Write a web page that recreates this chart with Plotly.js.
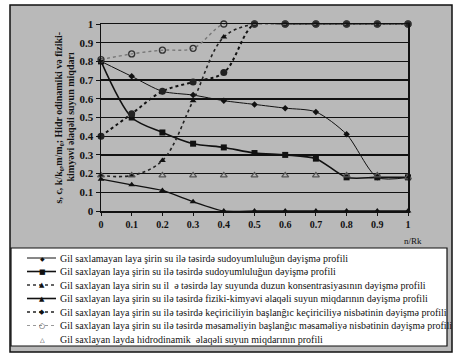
<!DOCTYPE html>
<html><head><meta charset="utf-8">
<script src="https://cdn.plot.ly/plotly-3.0.1.min.js"></script>
<style>html,body{margin:0;padding:0;background:#fff}#c{width:456px;height:358px}</style>
</head><body><div id="c"></div>
<script>
// ---- data ----
const xVals = [0, 0.1, 0.2, 0.3, 0.4, 0.5, 0.6, 0.7, 0.8, 0.9, 1];
const sudoyumNoClay = [0.80, 0.72, 0.64, 0.62, 0.59, 0.57, 0.55, 0.53, 0.41, 0.18, 0.18];
const sudoyumClay   = [0.80, 0.50, 0.42, 0.36, 0.34, 0.31, 0.30, 0.28, 0.18, 0.18, 0.18];
const saltConc      = [0.19, 0.19, 0.27, 0.59, 0.93, 1, 1, 1, 1, 1, 1];
const physChemWater = [0.17, 0.14, 0.11, 0.05, 0, 0, 0, 0, 0, 0, 0];
const permRatio     = [0.40, 0.52, 0.64, 0.69, 0.74, 1, 1, 1, 1, 1, 1];
const porosityRatio = [0.81, 0.84, 0.86, 0.87, 1, 1, 1, 1, 1, 1, 1];
const hydroWater    = [0.19, 0.19, 0.19, 0.19, 0.19, 0.19, 0.19, 0.19, 0.19, 0.19, 0.18];

const seriesNames = [
  "Gil saxlamayan laya şirin su ilə təsirdə sudoyumluluğun dəyişmə profili",
  "Gil saxlayan laya şirin su ilə təsirdə sudoyumluluğun dəyişmə profili",
  "Gil saxlayan laya sirin su il  ə təsirdə lay suyunda duzun konsentrasiyasının dəyişmə profili",
  "Gil saxlayan laya şirin su ilə təsirdə fiziki-kimyəvi əlaqəli suyun miqdarının dəyişmə profili",
  "Gil saxlayan laya şirin su ilə təsirdə keçiriciliyin başlanğıc keçiriciliyə nisbətinin dəyişmə profili",
  "Gil saxlayan laya şirin su ilə təsirdə məsaməliyin başlanğıc məsaməliyə nisbətinin dəyişmə profili",
  "Gil saxlayan layda hidrodinamik  əlaqəli suyun miqdarının profili"
];
const yTitleLine1 = "s, c, k/k₀,m/m₀; Hidr odinamiki və fiziki-";
const yTitleLine2 = "kimyəvi əlaqəli suyun miqdarı";
const xTitle = "n/Rk";

// ---- styles ----
const seriesData = [sudoyumNoClay, sudoyumClay, saltConc, physChemWater, permRatio, porosityRatio, hydroWater];
const styles = [
  {mode:'lines+markers', line:{color:'#111', width:1, shape:'spline', smoothing:0.75}, marker:{symbol:'diamond', size:5, color:'#111'}, sym:'◆', symSize:6, dash:'solid', lw:1, lc:'#111'},
  {mode:'lines+markers', line:{color:'#111', width:1.6, shape:'spline', smoothing:0.8}, marker:{symbol:'square', size:6, color:'#111'}, sym:'■', symSize:7, dash:'solid', lw:1.6, lc:'#111'},
  {mode:'lines+markers', line:{color:'#222', width:1.6, dash:'dot', shape:'spline', smoothing:1}, marker:{symbol:'triangle-up', size:6, color:'#111'}, sym:'▲', symSize:7, dash:'dot', lw:1.3, lc:'#333'},
  {mode:'lines+markers', line:{color:'#111', width:1.3, shape:'spline', smoothing:0.6}, marker:{symbol:'triangle-up', size:6, color:'#111'}, sym:'▲', symSize:7, dash:'solid', lw:1.6, lc:'#111'},
  {mode:'lines+markers', line:{color:'#111', width:2, dash:'dot', shape:'spline', smoothing:1}, marker:{symbol:'circle', size:7, color:'#222'}, sym:'◆', symSize:7, dash:'dot', lw:1.6, lc:'#222'},
  {mode:'lines+markers', line:{color:'#777', width:1.4, dash:'dot', shape:'spline', smoothing:1}, marker:{symbol:'circle-open', size:6, color:'#333', line:{width:1.3}}, sym:'○', symSize:7, dash:'dot', lw:1.2, lc:'#999'},
  {mode:'markers', marker:{symbol:'triangle-up-open', size:6, color:'#555', line:{width:1.3}}, sym:'△', symSize:6}
];

const traces = seriesData.map((ys, i) => {
  const s = styles[i];
  const t = {x: xVals, y: ys, name: seriesNames[i], type:'scatter', mode: s.mode, marker: s.marker, cliponaxis:false, showlegend:false};
  if (s.line) t.line = s.line;
  return t;
});

// pixel -> paper helpers (plot area 101..408 x, 24..211 y)
const L = 101, R = 408, T = 24, B = 211;
const px = v => (v - L) / (R - L);
const py = v => (B - v) / (B - T);

const shapes = [
  {type:'rect', xref:'paper', yref:'paper', x0:px(10), x1:px(452), y0:py(352), y1:py(5), fillcolor:'#b9b9b9', line:{color:'#111', width:1.5}, layer:'below'},
  {type:'rect', xref:'paper', yref:'paper', x0:px(11), x1:px(447), y0:py(346), y1:py(248), fillcolor:'#ffffff', line:{color:'#111', width:1.2}, layer:'below'}
];
const titleFont = {family:'Liberation Serif', size:10, color:'#111', weight:'bold'};
const annotations = [
  {xref:'paper', yref:'paper', x:px(58), y:0.5, text:yTitleLine1, textangle:-90, showarrow:false, font:titleFont, xanchor:'center', yanchor:'middle'},
  {xref:'paper', yref:'paper', x:px(70), y:0.5, text:yTitleLine2, textangle:-90, showarrow:false, font:titleFont, xanchor:'center', yanchor:'middle'},
  {xref:'paper', yref:'paper', x:px(413), y:py(241), text:xTitle, showarrow:false, font:{family:'Liberation Serif', size:9, color:'#111'}, xanchor:'center', yanchor:'middle'}
];
const rowY = [258, 271.5, 285, 298.5, 312, 325.5, 339];
seriesNames.forEach((n, i) => {
  const s = styles[i];
  const y = py(rowY[i]);
  if (s.dash) shapes.push({type:'line', xref:'paper', yref:'paper', x0:px(27), x1:px(56), y0:y, y1:y, line:{color:s.lc, width:s.lw, dash:s.dash}});
  annotations.push({xref:'paper', yref:'paper', x:px(42), y:y, text:s.sym, showarrow:false, font:{family:'DejaVu Sans', size:s.symSize, color:'#111'}, xanchor:'center', yanchor:'middle'});
  annotations.push({xref:'paper', yref:'paper', x:px(58), y:y, text:n, showarrow:false, font:{family:'Liberation Serif', size:10, color:'#111'}, xanchor:'left', yanchor:'middle'});
});

const layout = {
  width:456, height:358,
  margin:{l:L, r:456-R, t:T, b:358-B, pad:0},
  paper_bgcolor:'#ffffff', plot_bgcolor:'#ffffff',
  showlegend:false,
  xaxis:{range:[0,1], dtick:0.1, tick0:0, showgrid:false, zeroline:false, showline:true, linecolor:'#111', linewidth:1.5, mirror:true,
         ticks:'outside', ticklen:3, tickcolor:'#111', tickfont:{family:'Liberation Serif', size:10, color:'#111', weight:'bold'}, fixedrange:true},
  yaxis:{range:[0,1], dtick:0.1, tick0:0, showgrid:true, gridcolor:'#111', gridwidth:1.4, zeroline:false, showline:true, linecolor:'#111', linewidth:1.5, mirror:true,
         ticks:'outside', ticklen:4, tickcolor:'#111', tickfont:{family:'Liberation Serif', size:11, color:'#111', weight:'bold'}, fixedrange:true},
  shapes: shapes,
  annotations: annotations
};
Plotly.newPlot('c', traces, layout, {staticPlot:true, displayModeBar:false});
</script>
</body></html>
